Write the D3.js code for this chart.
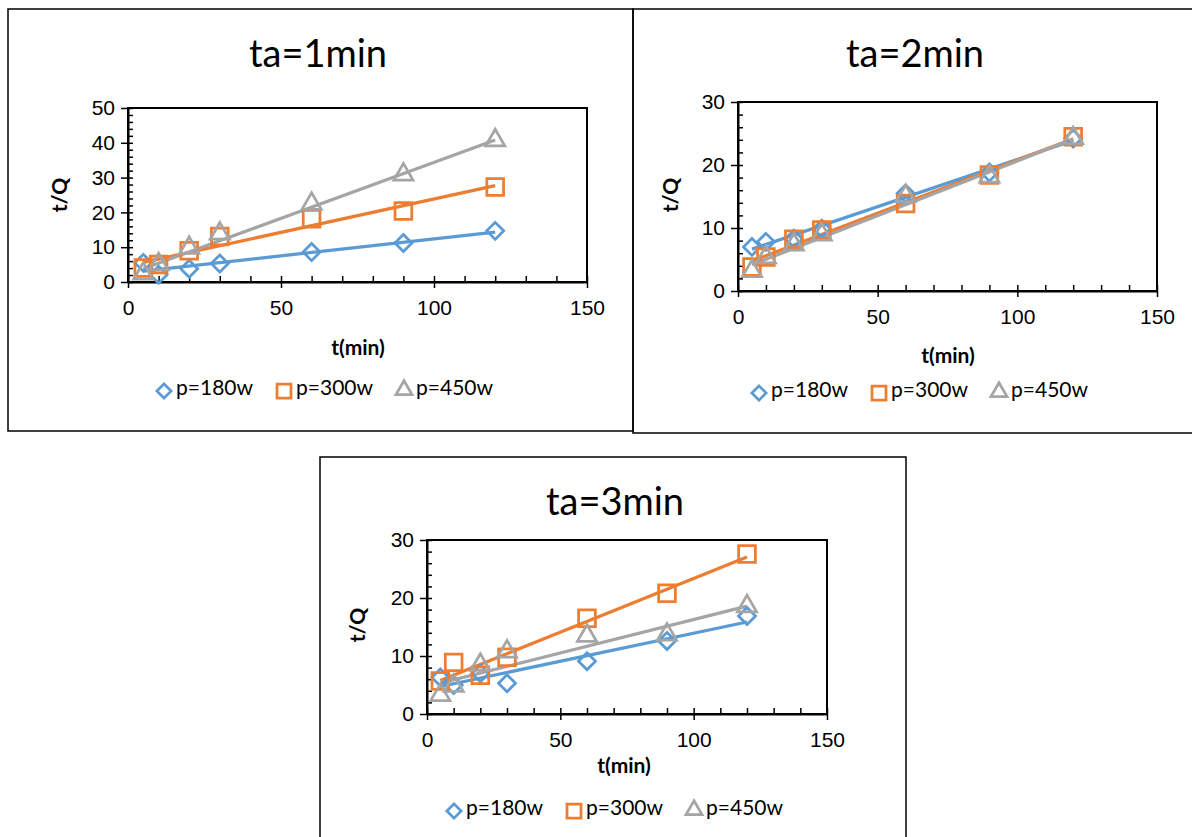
<!DOCTYPE html>
<html>
<head>
<meta charset="utf-8">
<script src="https://cdn.jsdelivr.net/npm/d3@7"></script>
<style>
  body { margin: 0; background: #fff; }
  svg { display: block; font-family: Lato, "Open Sans", sans-serif; }
  .tick text { font-size: 21px; fill: #000; }
</style>
</head>
<body>
<svg id="chart" width="1192" height="837"></svg>
<script>
// data: t (min) vs t/Q for three powers, for each ta
const times = [5, 10, 20, 30, 60, 90, 120];
const seriesNames = ["p=180w", "p=300w", "p=450w"];
const panelTitles = ["ta=1min", "ta=2min", "ta=3min"];

const ta1_p180 = [5.5, 2.1, 3.8, 5.3, 8.6, 11.2, 14.7];
const ta1_p300 = [4.0, 5.0, 9.0, 13.1, 18.2, 20.4, 27.3];
const ta1_p450 = [2.1, 4.8, 9.5, 13.6, 22.2, 30.6, 40.4];

const ta2_p180 = [7.0, 7.8, 8.3, 9.9, 15.5, 18.8, 24.2];
const ta2_p300 = [3.8, 5.4, 8.2, 9.7, 13.9, 18.4, 24.5];
const ta2_p450 = [3.0, 5.2, 7.2, 8.8, 14.9, 18.0, 24.1];

const ta3_p180 = [6.3, 5.0, 7.0, 5.3, 9.1, 12.6, 16.9];
const ta3_p300 = [5.7, 8.9, 6.7, 9.8, 16.5, 20.8, 27.6];
const ta3_p450 = [3.1, 4.7, 8.3, 10.6, 13.3, 13.5, 18.4];

const xTicks = [0, 50, 100, 150];
const yTicks1 = [0, 10, 20, 30, 40, 50];
const yTicks23 = [0, 10, 20, 30];

const colors = ["#5B9BD5", "#ED7D31", "#A5A5A5"];
const svg = d3.select("#chart");

const panels = [
  { title: panelTitles[0], data: [ta1_p180, ta1_p300, ta1_p450], yTicks: yTicks1,
    frame: [8, 9, 625, 422], px: [128, 587], py: [282, 108],
    titlePos: [318, 57], yLab: [62, 195], xLab: [358, 350], legY: 390, legX: 157 },
  { title: panelTitles[1], data: [ta2_p180, ta2_p300, ta2_p450], yTicks: yTicks23,
    frame: [633, 9, 580, 424], px: [738, 1157], py: [291, 102],
    titlePos: [915, 57], yLab: [673, 195], xLab: [948, 358], legY: 392, legX: 752 },
  { title: panelTitles[2], data: [ta3_p180, ta3_p300, ta3_p450], yTicks: yTicks23,
    frame: [320, 457, 586, 400], px: [427, 827], py: [714, 540],
    titlePos: [615, 505], yLab: [360, 625], xLab: [624, 768], legY: 810, legX: 447 }
];

function fit(xs, ys) {
  const mx = d3.mean(xs), my = d3.mean(ys);
  let sxy = 0, sxx = 0;
  xs.forEach((x, i) => { sxy += (x - mx) * (ys[i] - my); sxx += (x - mx) * (x - mx); });
  const b = sxy / sxx;
  return { a: my - b * mx, b: b };
}

// diamond = square turned 45deg
function marker(g, i, x, y, k) {
  k = k || 1;
  let d, tr = "translate(" + x + "," + y + ")";
  if (i == 0) { d = d3.symbol().type(d3.symbolSquare).size(145 * k)(); tr += " rotate(45)"; }
  else if (i == 1) d = d3.symbol().type(d3.symbolSquare).size(280 * k)();
  else { d = d3.symbol().type(d3.symbolTriangle).size(160 * k)(); tr = "translate(" + x + "," + (y - 1) + ")"; }
  g.append("path")
    .attr("d", d)
    .attr("transform", tr)
    .attr("fill", "none")
    .attr("stroke", colors[i])
    .attr("stroke-width", 2.75);
}

panels.forEach(p => {
  const g = svg.append("g");
  g.append("rect")
    .attr("x", p.frame[0]).attr("y", p.frame[1])
    .attr("width", p.frame[2]).attr("height", p.frame[3])
    .attr("fill", "none").attr("stroke", "#000").attr("stroke-width", 1.5);

  const yMax = d3.max(p.yTicks);
  const x = d3.scaleLinear().domain([0, 150]).range(p.px);
  const y = d3.scaleLinear().domain([0, yMax]).range(p.py);

  // plot border
  g.append("rect")
    .attr("x", p.px[0]).attr("y", p.py[1])
    .attr("width", p.px[1] - p.px[0]).attr("height", p.py[0] - p.py[1])
    .attr("fill", "none").attr("stroke", "#000").attr("stroke-width", 2);

  // minor ticks inside
  g.append("g").attr("transform", "translate(0," + p.py[0] + ")")
    .call(d3.axisBottom(x).tickValues(d3.range(0, 151, 10)).tickSize(-6).tickFormat(""))
    .call(a => a.select(".domain").remove());
  g.append("g").attr("transform", "translate(" + p.px[0] + ",0)")
    .call(d3.axisLeft(y).tickValues(d3.range(0, yMax + 1, 2)).tickSize(-5).tickFormat(""))
    .call(a => a.select(".domain").remove());

  // major ticks + labels
  g.append("g").attr("transform", "translate(0," + p.py[0] + ")")
    .call(d3.axisBottom(x).tickValues(xTicks).tickSize(6).tickPadding(12).tickSizeOuter(0))
    .call(a => a.select(".domain").attr("stroke-width", 2));
  g.append("g").attr("transform", "translate(" + p.px[0] + ",0)")
    .call(d3.axisLeft(y).tickValues(p.yTicks).tickSize(7).tickPadding(6).tickSizeOuter(0))
    .call(a => a.select(".domain").attr("stroke-width", 2));
  g.selectAll(".tick line").attr("stroke", "#000").attr("stroke-width", 1.5);

  // trendlines then markers
  p.data.forEach((ys, i) => {
    const f = fit(times, ys);
    g.append("line")
      .attr("x1", x(times[0])).attr("y1", y(f.a + f.b * times[0]))
      .attr("x2", x(times[times.length - 1])).attr("y2", y(f.a + f.b * times[times.length - 1]))
      .attr("stroke", colors[i]).attr("stroke-width", 3.25);
  });
  p.data.forEach((ys, i) => {
    ys.forEach((v, j) => marker(g, i, x(times[j]), y(v)));
  });

  g.append("text").attr("x", p.titlePos[0]).attr("y", p.titlePos[1])
    .attr("text-anchor", "middle").attr("dominant-baseline", "middle")
    .attr("font-size", 38).text(p.title);
  g.append("text")
    .attr("transform", "translate(" + p.yLab[0] + "," + p.yLab[1] + ") rotate(-90)")
    .attr("text-anchor", "middle").attr("dominant-baseline", "middle")
    .attr("font-size", 21).attr("font-weight", "bold").text("t/Q");
  g.append("text").attr("x", p.xLab[0]).attr("y", p.xLab[1])
    .attr("text-anchor", "middle").attr("dominant-baseline", "middle")
    .attr("font-size", 21).attr("font-weight", "bold").text("t(min)");

  // legend
  let cx = p.legX;
  seriesNames.forEach((name, i) => {
    marker(g, i, cx + 7, p.legY + 1, 0.7);
    const t = g.append("text").attr("x", cx + 19).attr("y", p.legY)
      .attr("dominant-baseline", "middle").attr("font-size", 21).text(name);
    cx += 19 + t.node().getComputedTextLength() + 24;
  });
});
</script>
</body>
</html>
